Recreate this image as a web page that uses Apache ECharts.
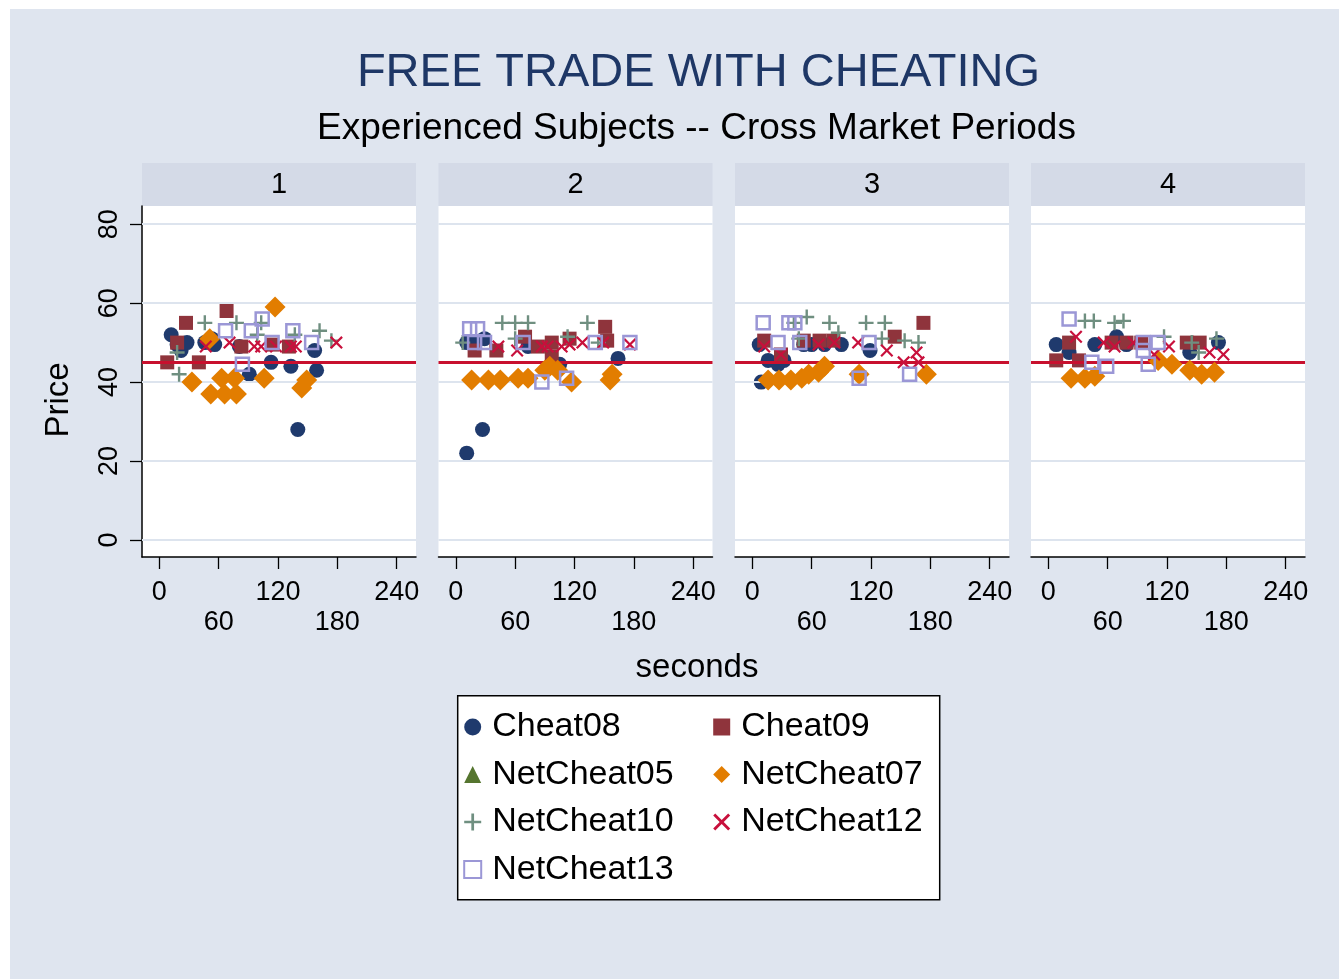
<!DOCTYPE html>
<html>
<head>
<meta charset="UTF-8">
<title>Free trade with cheating</title>
<script src="https://cdn.jsdelivr.net/npm/echarts@6/dist/echarts.min.js"></script>
<style>
    body { margin: 0; background: #fff; }
    #chart {
        position: absolute;
        left: 10px;
        top: 9px;
        width: 1329px;
        height: 970px;
        background: #dfe5ef;
    }
</style>
</head>
<body>
<div id="chart"></div>
<script>
    // panel labels, ticks and reference price
    var panels = ['1', '2', '3', '4'];
    var xTicks = [0, 60, 120, 180, 240];
    var yTicks = [0, 20, 40, 60, 80];
    var refPrice = 45;

    // [seconds, price] per panel
    var cheat08 = [
        [[12, 52], [18, 49.5], [22, 48], [28, 50], [46, 50], [53, 51], [56, 49.5], [81, 49], [91, 42], [113, 45], [133, 44], [140, 28], [157, 48], [159, 43]],
        [[11, 22], [27, 28], [11, 50], [20, 50], [29, 51], [73, 49], [105, 44.5], [164, 46]],
        [[7, 49.5], [16, 45.5], [26, 44.5], [32, 45.5], [9, 40], [52, 49.5], [60, 49.5], [73, 49.5], [90, 49.5], [119, 48]],
        [[8, 49.5], [21, 47.5], [47, 49.5], [69, 51.5], [79, 49.5], [143, 47.5], [172, 50]]
    ];
    var cheat09 = [
        [[8, 45], [18, 50], [27, 55], [40, 45], [68, 58], [83, 49], [114, 49.5], [131, 49]],
        [[19, 48], [41, 48], [70, 51.5], [83, 49], [97, 50], [97, 46.5], [115, 51], [151, 54], [153, 50.5]],
        [[12, 50.5], [29, 47], [52, 50.5], [68, 50.5], [82, 50.5], [144, 51.5], [173, 55]],
        [[8, 45.5], [21, 50], [31, 45.5], [64, 50], [79, 50], [94, 50], [140, 50], [153, 50]]
    ];
    var netCheat05 = [[], [], [], []];
    var netCheat07 = [
        [[33, 40], [51, 51], [52, 37], [63, 41], [66, 37], [76, 41], [78, 37], [106, 41], [117, 59], [144, 38.5], [149, 40.5]],
        [[16, 40.5], [33, 40.5], [45, 40.5], [63, 41], [73, 41], [90, 43], [95, 44], [103, 43], [117, 40], [156, 40.5], [158, 42]],
        [[16, 40.5], [27, 40.5], [39, 40.5], [50, 41], [57, 42], [67, 42.5], [73, 44], [108, 42], [176, 42]],
        [[23, 41], [37, 41], [47, 41.5], [111, 45.5], [125, 44.5], [143, 43], [155, 42], [168, 42.5]]
    ];
    var netCheat10 = [
        [[18, 47.5], [20, 42], [46, 55], [78, 55], [99, 52], [103, 55], [137, 52], [162, 53], [174, 50.5]],
        [[7, 50], [47, 55], [60, 55], [60, 51], [73, 55], [113, 51.5], [133, 55], [144, 50]],
        [[42, 55], [47, 51], [55, 56.5], [78, 55], [87, 52.5], [115, 55], [131, 51], [134, 55], [154, 50.5], [168, 50]],
        [[37, 55.5], [46, 55.5], [67, 55], [76, 55.5], [117, 51.5], [145, 50], [152, 47.5], [170, 51]]
    ];
    var netCheat12 = [
        [[47, 49], [71, 50], [96, 49], [103, 49], [118, 49], [133, 49], [138, 49], [179, 50]],
        [[43, 49], [62, 48], [87, 49], [93, 49], [107, 49], [115, 49.5], [128, 50], [149, 50], [176, 49.5]],
        [[12, 49], [29, 47], [67, 49.5], [83, 50], [107, 50], [136, 48], [153, 45], [166, 47.5], [168, 45]],
        [[28, 51.5], [56, 50], [67, 49], [86, 50], [107, 47], [122, 49], [163, 47.5], [177, 47]]
    ];
    var netCheat13 = [
        [[67, 53], [84, 44.5], [93, 53], [104, 56], [114, 50], [135, 53], [154, 50]],
        [[14, 53.5], [22, 53.5], [19, 50], [29, 50], [68, 50], [87, 40], [112, 41], [141, 50], [176, 50]],
        [[11, 55], [26, 50], [37, 55], [43, 55], [48, 50], [108, 41], [118, 50], [159, 42]],
        [[21, 56], [44, 45], [59, 44], [96, 50], [96, 48], [101, 44.5], [111, 50]]
    ];

    var FONT = '"Liberation Sans", Arial, Helvetica, sans-serif';
    var PLUS = 'path://M4.2,0H5.8V4.2H10V5.8H5.8V10H4.2V5.8H0V4.2H4.2Z';
    var CROSS = 'path://M0,1.2L1.2,0L5,3.8L8.8,0L10,1.2L6.2,5L10,8.8L8.8,10L5,6.2L1.2,10L0,8.8L3.8,5Z';

    var traders = [
        {name: 'Cheat08', data: cheat08, symbol: 'circle', size: 15, color: '#1f3a6d'},
        {name: 'Cheat09', data: cheat09, symbol: 'rect', size: 14, color: '#8f343c'},
        {name: 'NetCheat05', data: netCheat05, symbol: 'triangle', size: 16, color: '#55752f'},
        {name: 'NetCheat07', data: netCheat07, symbol: 'diamond', size: 21, color: '#e27d00'},
        {name: 'NetCheat10', data: netCheat10, symbol: PLUS, size: 15, color: '#6f8f80'},
        {name: 'NetCheat12', data: netCheat12, symbol: CROSS, size: 13, color: '#c8103c'},
        {name: 'NetCheat13', data: netCheat13, symbol: 'rect', size: 13, color: '#9b97d6', hollow: true}
    ];

    var gridLefts = [132, 428.5, 725, 1021];
    var gridTop = 197, gridW = 274, gridH = 351;

    var grids = [], xAxes = [], yAxes = [], series = [], graphics = [];

    panels.forEach(function (p, i) {
        grids.push({
            left: gridLefts[i], top: gridTop, width: gridW, height: gridH,
            show: true, backgroundColor: '#fff', borderWidth: 0,
            containLabel: false, outerBoundsMode: 'none'
        });
        xAxes.push({
            type: 'value', gridIndex: i, min: -17.5, max: 259.5,
            axisLine: {show: true, onZero: false, lineStyle: {color: '#000', width: 1.5}},
            axisTick: {show: true, length: 12, customValues: xTicks, lineStyle: {color: '#000', width: 1.3}},
            axisLabel: {
                customValues: xTicks, fontSize: 27, lineHeight: 30, margin: 21,
                color: '#000', fontFamily: FONT,
                formatter: function (v) { return (v / 60) % 2 === 1 ? '\n' + v : '' + v; }
            },
            splitLine: {show: false}
        });
        yAxes.push({
            type: 'value', gridIndex: i, min: -4.3, max: 84.6, show: i === 0,
            axisLine: {show: true, onZero: false, lineStyle: {color: '#000', width: 1.5}},
            axisTick: {show: true, length: 12, customValues: yTicks, lineStyle: {color: '#000', width: 1.3}},
            axisLabel: {customValues: yTicks, rotate: 90, fontSize: 27, margin: 19, color: '#000', fontFamily: FONT},
            splitLine: {show: false}
        });

        // grid lines + reference price line
        var lines = yTicks.map(function (v) {
            return {yAxis: v, lineStyle: {color: '#dde4ee', width: 2, type: 'solid'}};
        });
        lines.push({yAxis: refPrice, lineStyle: {color: '#c8102e', width: 3, type: 'solid'}});
        series.push({
            type: 'scatter', name: 'ref', xAxisIndex: i, yAxisIndex: i, data: [], silent: true, z: 1,
            markLine: {silent: true, symbol: 'none', label: {show: false}, animation: false, data: lines}
        });

        traders.forEach(function (t, k) {
            var style = t.hollow
                ? {color: 'rgba(0,0,0,0)', borderColor: t.color, borderWidth: 2.5, opacity: 1}
                : {color: t.color, opacity: 1};
            series.push({
                type: 'scatter', name: t.name, xAxisIndex: i, yAxisIndex: i,
                data: t.data[i], symbol: t.symbol, symbolSize: t.size,
                itemStyle: style, z: 2 + k, emphasis: {disabled: true}
            });
        });

        // panel header strip
        graphics.push({
            type: 'rect', shape: {x: gridLefts[i], y: 154, width: gridW, height: 43},
            style: {fill: '#d4dae7'}, silent: true
        });
        graphics.push({
            type: 'text', x: gridLefts[i] + gridW / 2, y: 176,
            style: {text: p, fontSize: 29, fontFamily: FONT, fill: '#000', align: 'center', verticalAlign: 'middle'}
        });
    });

    graphics.push({
        type: 'text', x: 688.5, y: 64,
        style: {text: 'FREE TRADE WITH CHEATING', fontSize: 47, fontFamily: FONT, fill: '#1e3766', align: 'center', verticalAlign: 'middle'}
    });
    graphics.push({
        type: 'text', x: 686.5, y: 119.5,
        style: {text: 'Experienced Subjects -- Cross Market Periods', fontSize: 37, fontFamily: FONT, fill: '#000', align: 'center', verticalAlign: 'middle'}
    });
    graphics.push({
        type: 'text', x: 687, y: 659,
        style: {text: 'seconds', fontSize: 33, fontFamily: FONT, fill: '#000', align: 'center', verticalAlign: 'middle'}
    });
    graphics.push({
        type: 'text', x: 49, y: 391, rotation: Math.PI / 2,
        style: {text: 'Price', fontSize: 33, fontFamily: FONT, fill: '#000', align: 'center', verticalAlign: 'middle'}
    });
    graphics.push({
        type: 'rect', shape: {x: 447.7, y: 686.7, width: 482, height: 204},
        style: {fill: '#fff', stroke: '#000', lineWidth: 1.5}, silent: true
    });

    function legendCol(left, names) {
        return {
            orient: 'vertical', left: left, top: 700, padding: 0,
            itemWidth: 17, itemHeight: 17, itemGap: 11.5,
            selectedMode: false, data: names,
            textStyle: {fontSize: 34, lineHeight: 36, color: '#000', fontFamily: FONT, padding: [0, 0, 0, 6]}
        };
    }

    var chart = echarts.init(document.getElementById('chart'), null, {renderer: 'canvas'});
    chart.setOption({
        animation: false,
        backgroundColor: '#dfe5ef',
        graphic: graphics,
        legend: [
            legendCol(453.2, ['Cheat08', 'NetCheat05', 'NetCheat10', 'NetCheat13']),
            legendCol(703.2, ['Cheat09', 'NetCheat07', 'NetCheat12'])
        ],
        grid: grids,
        xAxis: xAxes,
        yAxis: yAxes,
        series: series
    });
</script>
</body>
</html>
